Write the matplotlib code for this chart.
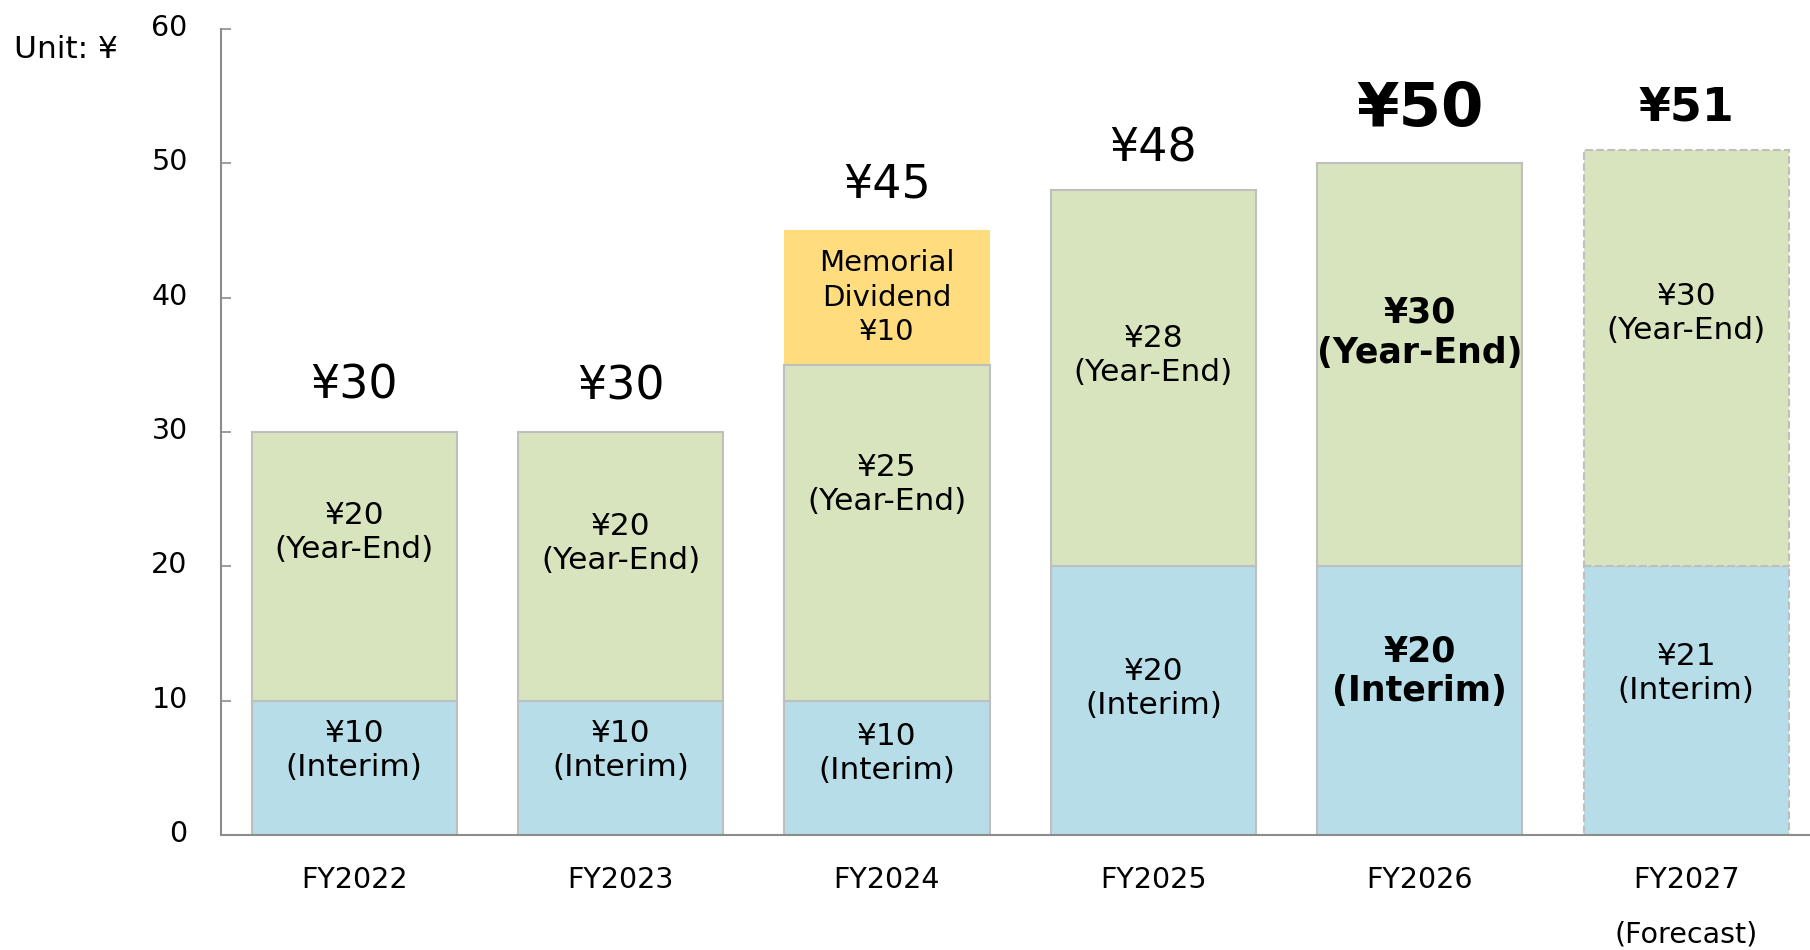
import matplotlib
matplotlib.use("Agg")
import matplotlib.pyplot as plt
import matplotlib.transforms as mtransforms

# ---- data ----
years = ["FY2022", "FY2023", "FY2024", "FY2025", "FY2026", "FY2027"]
interim = [10, 10, 10, 20, 20, 20]
year_end = [20, 20, 25, 28, 30, 31]
memorial = [0, 0, 10, 0, 0, 0]
total_labels = ["¥30", "¥30", "¥45", "¥48", "¥50", "¥51"]
interim_labels = ["¥10\n(Interim)", "¥10\n(Interim)", "¥10\n(Interim)",
                  "¥20\n(Interim)", "¥20\n(Interim)", "¥21\n(Interim)"]
year_end_labels = ["¥20\n(Year-End)", "¥20\n(Year-End)", "¥25\n(Year-End)",
                   "¥28\n(Year-End)", "¥30\n(Year-End)", "¥30\n(Year-End)"]
memorial_label = "Memorial\nDividend\n¥10"
y_ticks = [0, 10, 20, 30, 40, 50, 60]

# ---- layout / style ----
C_INT = "#B7DDE8"
C_YE = "#D7E4BD"
C_MEM = "#FFDC7E"
C_EDGE = "#BFBFBF"
AX_GRAY = "#8C8C8C"
highlight = 4    # FY2026 bold
forecast = 5     # FY2027 dashed
interim_text_y = [6.3, 6.3, 6.1, 10.9, 12.2, 12.0]
ye_text_y = [22.5, 21.7, 26.1, 35.7, 37.4, 38.8]
total_off = [46, 45, 45, 41, 54, 42]   # px above bar top (label centre)
total_size = [33, 33, 33, 33, 44, 33]

plt.rcParams["font.family"] = ["DejaVu Sans"]
fig = plt.figure(figsize=(18.1, 9.5), dpi=100)
ax = fig.add_axes([221 / 1810, 115 / 950, 1 - 221 / 1810, 806 / 950])

x = list(range(len(years)))
width = 0.77
for i in x:
    ls = "--" if i == forecast else "-"
    ax.bar(i, interim[i], width, color=C_INT, edgecolor=C_EDGE, linewidth=1.5,
           linestyle=ls, zorder=2)
    ax.bar(i, year_end[i], width, bottom=interim[i], color=C_YE, edgecolor=C_EDGE,
           linewidth=1.5, linestyle=ls, zorder=2)
    if memorial[i]:
        ax.bar(i, memorial[i], width, bottom=interim[i] + year_end[i], color=C_MEM,
               edgecolor="none", linewidth=0, zorder=1)

for i in x:
    bold = (i == highlight)
    fw = "bold" if bold else "normal"
    fs = 25 if bold else 22.5
    ax.text(i, interim_text_y[i], interim_labels[i], ha="center", va="center",
            fontsize=fs, fontweight=fw, linespacing=1.22, zorder=3)
    ax.text(i, ye_text_y[i], year_end_labels[i], ha="center", va="center",
            fontsize=fs, fontweight=fw, linespacing=1.22, zorder=3)
    top = interim[i] + year_end[i] + memorial[i]
    tfw = "bold" if i >= highlight else "normal"
    ax.annotate(total_labels[i], xy=(i, top), xytext=(0, total_off[i] * 0.72),
                textcoords="offset points", ha="center", va="center",
                fontsize=total_size[i], fontweight=tfw)
    if memorial[i]:
        ax.text(i, interim[i] + year_end[i] + memorial[i] / 2, memorial_label,
                ha="center", va="center", fontsize=21, linespacing=1.3, zorder=3)

ax.set_xlim(-0.5, 5.465)
ax.set_ylim(0, 60)
ax.set_yticks(y_ticks)
ax.set_yticklabels([str(v) for v in y_ticks])
ax.set_xticks(x)
ax.set_xticklabels(years)
ax.tick_params(axis="y", direction="in", length=7, width=1.2, color=AX_GRAY,
               labelsize=20.5, pad=24)
ax.tick_params(axis="x", length=0, labelsize=20.5, pad=22)
shift = mtransforms.ScaledTranslation(0, 4 / 100, fig.dpi_scale_trans)
for lab in ax.get_yticklabels():
    lab.set_transform(lab.get_transform() + shift)
for s in ["top", "right"]:
    ax.spines[s].set_visible(False)
for s in ["left", "bottom"]:
    ax.spines[s].set_color(AX_GRAY)
    ax.spines[s].set_linewidth(1.5)

ax.text(forecast, -0.124, "(Forecast)", transform=ax.get_xaxis_transform(),
        ha="center", va="center", fontsize=20.5)
fig.text(14 / 1810, 1 - 50 / 950, "Unit: ¥", ha="left", va="center", fontsize=22.5)

fig.savefig("out.png", dpi=100)
